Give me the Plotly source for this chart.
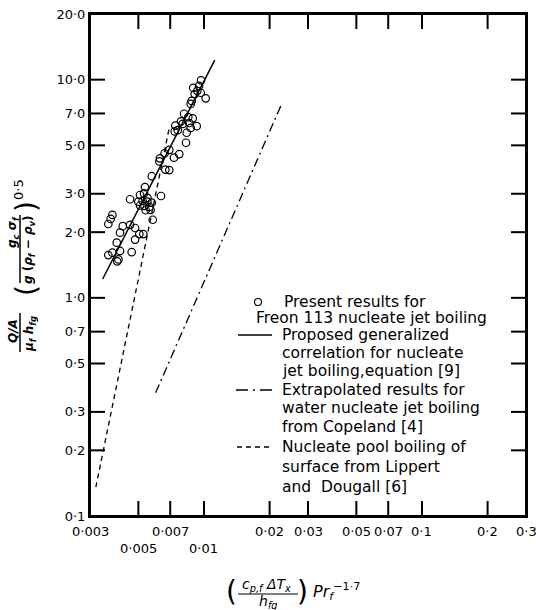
import math
import plotly.graph_objects as go

# ---------------- data ----------------
freon_x = [0.00969, 0.00893, 0.00949, 0.00932, 0.00907, 0.00966, 0.01018, 0.00878, 0.00869,
           0.0081, 0.00847, 0.00888, 0.00785, 0.00739, 0.00758, 0.00799, 0.00856, 0.00926,
           0.00833, 0.00869, 0.00734, 0.00827,
           0.00693, 0.0066, 0.00628, 0.00624, 0.00728, 0.0077, 0.00665, 0.00693,
           0.00576, 0.00536, 0.00635, 0.00458,
           0.00509, 0.00531, 0.0055, 0.005, 0.00523, 0.0055, 0.00576, 0.00509, 0.00533,
           0.00561, 0.0054, 0.00569,
           0.00582, 0.0038, 0.00373, 0.00364, 0.00424, 0.00458, 0.00483, 0.00412, 0.00505,
           0.00527,
           0.00398, 0.00483, 0.00364, 0.0038, 0.00412, 0.00405, 0.00466, 0.004]
freon_y = [9.93, 9.17, 9.36, 8.89, 8.59, 8.71, 8.21, 7.99, 7.74,
           6.98, 6.74, 6.65, 6.44, 6.16, 5.87, 6.27, 6.33, 6.12, 5.71, 6.01, 5.79, 5.14,
           4.77, 4.60, 4.36, 4.22, 4.39, 4.56, 3.87, 3.85,
           3.61, 3.22, 2.93, 2.83,
           2.96, 3.01, 2.87, 2.76, 2.78, 2.76, 2.73, 2.65, 2.64, 2.61, 2.52, 2.53,
           2.28, 2.40, 2.30, 2.18, 2.13, 2.16, 2.09, 1.99, 1.96, 1.96,
           1.79, 1.85, 1.57, 1.61, 1.64, 1.50, 1.62, 1.47]

corr_x = [0.00343, 0.0112]      # proposed generalized correlation
corr_y = [1.22, 12.3]
water_x = [0.0060, 0.0226]      # Copeland water jet boiling
water_y = [0.367, 7.65]
pool_x = [0.00319, 0.0069]      # Lippert & Dougall pool boiling
pool_y = [0.1355, 5.9]

x_range = [0.003, 0.3]
y_range = [0.1, 20]
x_tick_vals = [0.003, 0.005, 0.007, 0.01, 0.02, 0.03, 0.05, 0.07, 0.1, 0.2, 0.3]
x_tick_text = ["0·003", "0·005", "0·007", "0·01", "0·02", "0·03", "0·05",
               "0·07", "0·1", "0·2", "0·3"]
x_tick_row = [1, 2, 1, 2, 1, 1, 1, 1, 1, 1, 1]   # staggered label rows
y_tick_vals = [0.1, 0.2, 0.3, 0.5, 0.7, 1, 2, 3, 5, 7, 10, 20]
y_tick_text = ["0·1", "0·2", "0·3", "0·5", "0·7", "1·0", "2·0", "3·0", "5·0", "7·0",
               "10·0", "20·0"]

legend_lines = [
    ("Present results for", 282, 302),
    ("Freon 113 nucleate jet boiling", 254, 318),
    ("Proposed generalized", 280, 335),
    ("correlation for nucleate", 280, 353),
    ("jet boiling,equation [9]", 280, 371),
    ("Extrapolated results for", 280, 390),
    ("water nucleate jet boiling", 280, 408),
    ("from Copeland [4]", 280, 427),
    ("Nucleate pool boiling of", 280, 447),
    ("surface from Lippert", 280, 467),
    ("and  Dougall [6]", 280, 487),
]

# ---------------- layout helpers (pixel -> paper) ----------------
W, H = 536, 610
L, R, T, B = 90, 10, 14, 94
PW, PH = W - L - R, H - T - B


def xp(px):
    return (px - L) / PW


def yp(py):
    return (H - B - py) / PH


def log_frac(v, rng):
    """fraction along a log axis spanning rng"""
    a, b = math.log10(rng[0]), math.log10(rng[1])
    return (math.log10(v) - a) / (b - a)


FONT = "DejaVu Sans"
INK = "black"
TICK = 15

fig = go.Figure()

# inward tick marks on all four sides, drawn through the log axes
dx = TICK / PW * (math.log10(x_range[1]) - math.log10(x_range[0]))
dy = TICK / PH * (math.log10(y_range[1]) - math.log10(y_range[0]))
tick_x, tick_y = [], []
for v in x_tick_vals[1:-1]:
    tick_x += [v, v, None, v, v, None]
    tick_y += [y_range[0], y_range[0] * 10 ** dy, None,
               y_range[1] / 10 ** dy, y_range[1], None]
for v in y_tick_vals[1:-1]:
    tick_x += [x_range[0], x_range[0] * 10 ** dx, None,
               x_range[1] / 10 ** dx, x_range[1], None]
    tick_y += [v, v, None, v, v, None]
fig.add_trace(go.Scatter(x=tick_x, y=tick_y, mode="lines", hoverinfo="skip",
                         name="ticks", cliponaxis=False,
                         line=dict(color=INK, width=2)))

fig.add_trace(go.Scatter(x=freon_x, y=freon_y, mode="markers",
                         name="Present results for Freon 113 nucleate jet boiling",
                         marker=dict(symbol="circle-open", size=7.5, color=INK,
                                     line=dict(width=1.2, color=INK))))
fig.add_trace(go.Scatter(x=corr_x, y=corr_y, mode="lines",
                         name="Proposed generalized correlation",
                         line=dict(color=INK, width=1.5)))
fig.add_trace(go.Scatter(x=water_x, y=water_y, mode="lines",
                         name="Extrapolated results for water (Copeland)",
                         line=dict(color=INK, width=1.3, dash="9px,4px,2px,4px")))
fig.add_trace(go.Scatter(x=pool_x, y=pool_y, mode="lines",
                         name="Nucleate pool boiling (Lippert and Dougall)",
                         line=dict(color=INK, width=1.3, dash="5px,4px")))

fig.update_layout(
    width=W, height=H,
    margin=dict(l=L, r=R, t=T, b=B),
    paper_bgcolor="white", plot_bgcolor="white",
    showlegend=False,
    xaxis=dict(type="log", range=[math.log10(x_range[0]), math.log10(x_range[1])],
               tickvals=x_tick_vals, ticktext=[""] * len(x_tick_vals),
               ticks="inside", ticklen=TICK, tickwidth=1, tickcolor=INK,
               showline=True, linecolor=INK, linewidth=2, mirror="ticks",
               showgrid=False, zeroline=False, automargin=False),
    yaxis=dict(type="log", range=[math.log10(y_range[0]), math.log10(y_range[1])],
               tickvals=y_tick_vals, ticktext=y_tick_text,
               ticks="inside", ticklen=TICK, tickwidth=1, tickcolor=INK,
               showline=True, linecolor=INK, linewidth=2, mirror="ticks",
               showgrid=False, zeroline=False, automargin=False,
               tickfont=dict(family=FONT, size=13, color=INK)),
)

ann = []
shapes = []

# plot frame
shapes.append(dict(type="rect", xref="paper", yref="paper", x0=0, x1=1, y0=0, y1=1,
                   line=dict(color=INK, width=2), layer="above"))

# x tick labels in two staggered rows
for v, t, row in zip(x_tick_vals, x_tick_text, x_tick_row):
    ann.append(dict(text=t, x=log_frac(v, x_range), xref="paper",
                    y=yp(531 if row == 1 else 548),
                    yref="paper", xanchor="center", yanchor="middle", showarrow=False,
                    font=dict(family=FONT, size=13, color=INK)))
# legend text
for txt, px, py in legend_lines:
    ann.append(dict(text=txt, x=xp(px), y=yp(py), xref="paper", yref="paper",
                    xanchor="left", yanchor="middle", showarrow=False,
                    font=dict(family=FONT, size=15.5, color=INK)))
# legend symbols
shapes.append(dict(type="circle", xref="paper", yref="paper",
                   x0=xp(254.5), x1=xp(261.5), y0=yp(298.5), y1=yp(305.5),
                   line=dict(color=INK, width=1.2)))
shapes.append(dict(type="line", xref="paper", yref="paper", x0=xp(238), x1=xp(272),
                   y0=yp(335), y1=yp(335), line=dict(color=INK, width=1.5)))
shapes.append(dict(type="line", xref="paper", yref="paper", x0=xp(236), x1=xp(272),
                   y0=yp(390), y1=yp(390),
                   line=dict(color=INK, width=1.3, dash="12px,5px,2px,5px")))
shapes.append(dict(type="line", xref="paper", yref="paper", x0=xp(237), x1=xp(271),
                   y0=yp(447), y1=yp(447),
                   line=dict(color=INK, width=1.3, dash="5px,4px")))


def txt_ann(text, px, py, size, angle=0, xanchor="center"):
    ann.append(dict(text=text, x=xp(px), y=yp(py), xref="paper", yref="paper",
                    xanchor=xanchor, yanchor="middle", showarrow=False,
                    textangle=angle, font=dict(family=FONT, size=size, color=INK)))


# x-axis title
txt_ann("(", 231, 591, 28)
txt_ann("<i>c<sub>p,f</sub> ΔT<sub>x</sub></i>", 266, 585, 14)
txt_ann("<i>h<sub>fg</sub></i>", 268, 602, 14)
txt_ann(")", 302, 591, 28)
txt_ann("<i>Pr<sub>f</sub></i><sup>−1·7</sup>", 311, 591, 16, xanchor="left")
shapes.append(dict(type="line", xref="paper", yref="paper", x0=xp(238), x1=xp(298),
                   y0=yp(594), y1=yp(594), line=dict(color=INK, width=1.2)))

# y-axis title (rotated)
txt_ann("<b><i>Q/A</i></b>", 13, 331, 12, angle=-90)
txt_ann("<b><i>μ<sub>f</sub> h<sub>fg</sub></i></b>", 30, 334, 12, angle=-90)
shapes.append(dict(type="line", xref="paper", yref="paper", x0=xp(20), x1=xp(20),
                   y0=yp(313), y1=yp(352), line=dict(color=INK, width=1.5)))
txt_ann("(", 26, 291, 28, angle=-90)
txt_ann("<b><i>g<sub>c</sub> σ<sub>f</sub></i></b>", 13, 232, 12, angle=-90)
txt_ann("<b><i>g</i> (<i>ρ<sub>f</sub></i> − <i>ρ<sub>v</sub></i>)</b>", 29, 250, 12,
        angle=-90)
shapes.append(dict(type="line", xref="paper", yref="paper", x0=xp(20), x1=xp(20),
                   y0=yp(215), y1=yp(283), line=dict(color=INK, width=1.5)))
txt_ann(")", 26, 207, 28, angle=-90)
txt_ann("0·5", 18, 190, 13, angle=-90)

fig.update_layout(annotations=ann, shapes=shapes)
fig.write_html("out.html")
